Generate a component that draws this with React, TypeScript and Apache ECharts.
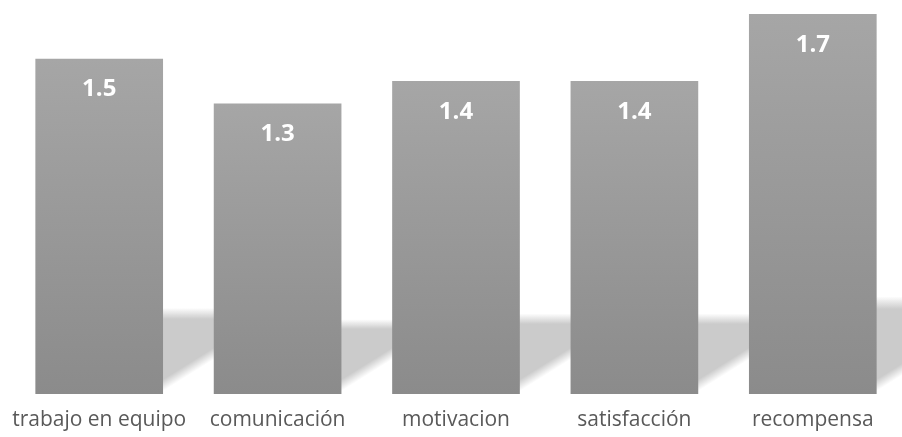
import React, { useEffect, useRef } from "react";
import * as echarts from "echarts";

const categories = ["trabajo en equipo", "comunicación", "motivacion", "satisfacción", "recompensa"];
const values = [1.5, 1.3, 1.4, 1.4, 1.7];

const BAR_RATIO = 129 / 180.25;

export default function App() {
  const ref = useRef<HTMLDivElement>(null);
  useEffect(() => {
    if (!ref.current) return;
    const chart = echarts.init(ref.current, undefined, { renderer: "svg" });

    const renderShadow = (params: any, api: any) => {
      const idx = api.value(0);
      const v = api.value(1);
      const topPt = api.coord([idx, v]);
      const basePt = api.coord([idx, 0]);
      const band = api.size([1, 0])[0];
      const bw = band * BAR_RATIO;
      const x0 = basePt[0] - bw / 2;
      const x1 = basePt[0] + bw / 2;
      const baseY = basePt[1];
      const h = baseY - topPt[1];
      const sh = h * 0.257;
      const sx = sh * 1.6;
      const topY = baseY - sh;
      const bx = x1 - 14;
      const tx = bx + sx;
      const len = Math.sqrt(sh * sh + sx * sx);
      const nx = sh / len;
      const ny = sx / len;
      const d = 5;
      const main = {
        type: "polygon",
        shape: {
          points: [
            [x0 + 5, baseY],
            [bx + 24, baseY],
            [tx + 24, topY],
            [x0 + 5, topY],
          ],
        },
        style: {
          fill: new echarts.graphic.LinearGradient(0, 0, 0, 1, [
            { offset: 0, color: "rgba(203,203,203,0)" },
            { offset: 0.13, color: "#cbcbcb" },
            { offset: 1, color: "#cbcbcb" },
          ]),
        },
      };
      const overlay = {
        type: "polygon",
        shape: {
          points: [
            [bx - d * nx, baseY - d * ny],
            [tx - d * nx, topY - d * ny],
            [tx + 40 * nx, topY + 40 * ny],
            [bx + 40 * nx, baseY + 40 * ny],
          ],
        },
        style: {
          fill: new echarts.graphic.LinearGradient(
            bx - d * nx,
            baseY - d * ny,
            bx + d * nx,
            baseY + d * ny,
            [
              { offset: 0, color: "rgba(255,255,255,0)" },
              { offset: 1, color: "#ffffff" },
            ],
            true
          ),
        },
      };
      return { type: "group", children: [main, overlay] };
    };

    chart.setOption({
      animation: false,
      grid: { left: 10, width: 901, top: 14, bottom: 43 },
      xAxis: {
        type: "category",
        data: categories,
        axisLine: { show: false },
        axisTick: { show: false },
        axisLabel: {
          interval: 0,
          color: "#595959",
          fontSize: 21,
          fontFamily: "Open Sans",
          margin: 13,
        },
      },
      yAxis: { type: "value", min: 0, max: 1.7, show: false, splitLine: { show: false } },
      series: [
        {
          type: "custom",
          z: 1,
          clip: true,
          data: values.map((v, i) => [i, v]),
          encode: { x: 0, y: 1 },
          renderItem: renderShadow,
          silent: true,
        },
        {
          type: "bar",
          z: 2,
          data: values,
          barWidth: `${BAR_RATIO * 100}%`,
          itemStyle: {
            color: new echarts.graphic.LinearGradient(0, 0, 0, 1, [
              { offset: 0, color: "#a6a6a6" },
              { offset: 1, color: "#8b8b8b" },
            ]),
          },
          label: {
            show: true,
            position: "insideTop",
            distance: 16,
            color: "#ffffff",
            fontWeight: "bold",
            fontSize: 24,
            fontFamily: "Open Sans",
            formatter: (p: any) => Number(p.value).toFixed(1),
          },
        },
      ],
    });
    return () => chart.dispose();
  }, []);
  return (
    <div
      ref={ref}
      style={{ position: "fixed", left: 0, top: 0, width: 902, height: 437 }}
    />
  );
}
